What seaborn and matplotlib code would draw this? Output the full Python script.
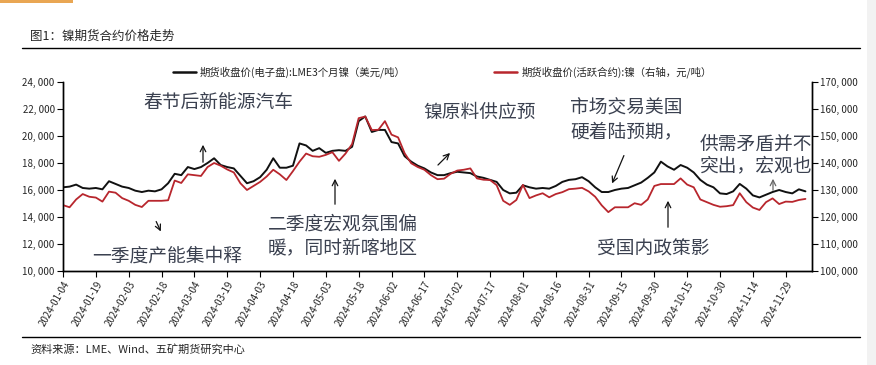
"""Nickel futures prices: LME 3M (left) vs SHFE active contract (right)."""
import pandas as pd
import seaborn as sns
import matplotlib.pyplot as plt
from matplotlib.lines import Line2D
from matplotlib.patches import Rectangle

# Step 1: values (every 3 days from 2024-01-04)
lme = [16200, 16250, 16400, 16150, 16100, 16150, 16050, 16650, 16450, 16250,
       16150, 15950, 15850, 15950, 15900, 16050, 16500, 17200, 17100, 17700,
       17550, 17700, 18000, 18350, 17850, 17700, 17600, 17050, 16500, 16650,
       16950, 17500, 18350, 17650, 17650, 17800, 19450, 19300, 18900, 19100,
       18750, 18900, 18950, 18900, 19200, 21100, 21450, 20300, 20450, 20450,
       19550, 19450, 18500, 18100, 17800, 17600, 17300, 17100, 17100, 17250,
       17350, 17300, 17250, 17000, 16900, 16750, 16600, 16000, 15750, 15800,
       16350, 16200, 16100, 16150, 16100, 16300, 16600, 16750, 16800, 16950,
       16650, 16200, 15850, 15850, 16000, 16100, 16150, 16350, 16550, 16900,
       17300, 18100, 17750, 17500, 17850, 17650, 17300, 16750, 16400, 16200,
       15750, 15700, 15900, 16450, 16100, 15600, 15450, 15650, 15850, 16000,
       15850, 15750, 16050, 15900]
shfe = [124.4, 123.6, 126.5, 128.5, 127.5, 127.2, 125.7, 129.4, 129.0, 127.0,
        126.0, 124.5, 123.7, 126.0, 126.0, 126.0, 126.2, 133.5, 132.6, 135.8,
        135.5, 135.2, 138.5, 140.0, 139.0, 137.6, 136.5, 132.5, 130.0, 131.5,
        133.0, 135.0, 137.5, 135.8, 133.7, 137.0, 140.5, 143.5, 142.5, 142.3,
        143.0, 144.0, 140.8, 143.5, 147.0, 156.6, 157.2, 152.2, 152.3, 155.5,
        150.5, 149.5, 143.6, 139.9, 138.5, 137.5, 135.5, 134.0, 134.2, 136.0,
        137.2, 137.5, 138.0, 134.3, 133.8, 133.7, 131.8, 126.0, 124.5, 126.3,
        131.9, 127.0, 128.0, 128.8, 127.3, 128.5, 129.2, 130.3, 130.5, 130.8,
        129.5, 127.5, 124.3, 121.8, 123.6, 123.6, 123.6, 125.1, 124.5, 126.5,
        131.5, 132.2, 132.2, 132.2, 134.3, 132.0, 131.0, 126.5, 125.5, 124.5,
        123.8, 124.0, 124.4, 128.8, 125.5, 123.5, 122.6, 125.5, 126.9, 124.8,
        125.7, 125.6, 126.3, 126.7]
shfe = [v * 1000 for v in shfe]
dates = pd.date_range("2024-01-04", periods=len(lme), freq="3D")
tick_dates = pd.date_range("2024-01-04", "2024-11-29", freq="15D")

label_lme = "期货收盘价(电子盘):LME3个月镍（美元/吨）"
label_shfe = "期货收盘价(活跃合约):镍（右轴，元/吨）"

df = pd.DataFrame({"date": dates, "lme": lme, "shfe": shfe})

# Step 2: style
sns.set_style("white")
plt.rcParams["font.family"] = ["Noto Sans CJK SC", "DejaVu Sans"]
black, red, txt = "#111111", "#b8262d", "#3b4150"

fig = plt.figure(figsize=(8.76, 3.65), dpi=100)
ax = fig.add_axes([63 / 876, 1 - 271 / 365, 749 / 876, 189 / 365])
ax2 = ax.twinx()

sns.lineplot(data=df, x="date", y="lme", ax=ax, color=black, lw=1.4, legend=False)
sns.lineplot(data=df, x="date", y="shfe", ax=ax2, color=red, lw=1.3, legend=False)

ax.set_xlim(pd.Timestamp("2024-01-04"), pd.Timestamp("2024-12-11"))
ax.set_ylim(10000, 24000)
ax2.set_ylim(100000, 170000)
ax.set_yticks(range(10000, 24001, 2000))
ax2.set_yticks(range(100000, 170001, 10000))
fmt = lambda v: f"{v:,.0f}".replace(",", ", ")
ax.set_yticklabels([fmt(v) for v in ax.get_yticks()], fontsize=7)
ax2.set_yticklabels([fmt(v) for v in ax2.get_yticks()], fontsize=7)
ax.set_xticks(tick_dates)
ax.set_xticklabels([d.strftime("%Y-%m-%d") for d in tick_dates], fontsize=7,
                   rotation=60, ha="right", rotation_mode="anchor")
ax.set_xlabel("")
ax.set_ylabel("")
ax2.set_ylabel("")
for a in (ax, ax2):
    a.spines["top"].set_visible(False)
    for s in a.spines.values():
        s.set_linewidth(1.0)
        s.set_color("black")
    a.tick_params(length=4, width=0.8, color="black", pad=2)
ax.tick_params(axis="both", which="both", bottom=True, left=True)
ax2.tick_params(axis="y", right=True)

# Step 3: legend above the plot
handles = [Line2D([], [], color=black, lw=1.8), Line2D([], [], color=red, lw=1.8)]
fig.legend(handles, [label_lme, label_shfe], loc="center", ncol=2,
           bbox_to_anchor=(0.505, 1 - 72 / 365), frameon=False, fontsize=7.5,
           handlelength=2.2, handletextpad=0.4, columnspacing=8.5)


# Step 4: annotations (pixel positions converted to axes fractions)
def pos(px, py):
    return ((px - 63) / 749, (271 - py) / 189)


notes = [
    ("春节后新能源汽车", 143, 102),
    ("镍原料供应预", 423, 112),
    ("市场交易美国", 570, 108),
    ("硬着陆预期，", 570, 132),
    ("供需矛盾并不", 700, 145),
    ("突出，宏观也", 700, 166),
    ("二季度宏观氛围偏", 268, 224),
    ("暖，同时新喀地区", 268, 248),
    ("一季度产能集中释", 92, 256),
    ("受国内政策影", 597, 249),
]
for s, px, py in notes:
    ax.text(*pos(px, py), s, transform=ax.transAxes, fontsize=13.5, color=txt,
            va="center", ha="left", clip_on=True)

arrows = [
    ((203, 165), (203, 142), black),
    ((155, 219), (162, 234), black),
    ((335, 207), (335, 176), black),
    ((436, 167), (452, 151), black),
    ((625, 153), (611, 186), black),
    ((668, 230), (668, 198), black),
    ((773, 193), (773, 176), "#666666"),
]
for start, end, c in arrows:
    ax.annotate("", xy=pos(*end), xytext=pos(*start), xycoords="axes fraction",
                textcoords="axes fraction",
                arrowprops=dict(arrowstyle="->", lw=0.9, color=c))

# Step 5: title, source and decorations
fig.text(30 / 876, 1 - 36 / 365, "图1：镍期货合约价格走势", fontsize=9, va="center")
fig.text(30 / 876, 1 - 349 / 365, "资料来源：LME、Wind、五矿期货研究中心", fontsize=8, va="center")
fig.add_artist(Line2D([22 / 876, 860 / 876], [1 - 48 / 365] * 2, color="black", lw=1.0))
fig.add_artist(Line2D([22 / 876, 860 / 876], [1 - 337 / 365] * 2, color="black", lw=1.0))
fig.add_artist(Rectangle((0, 1 - 3 / 365), 73 / 876, 3 / 365, color="#e9a653", lw=0))
fig.add_artist(Rectangle((867 / 876, 0), 9 / 876, 1, color="#f2f2f2", lw=0))

plt.savefig("out.png", dpi=100)
